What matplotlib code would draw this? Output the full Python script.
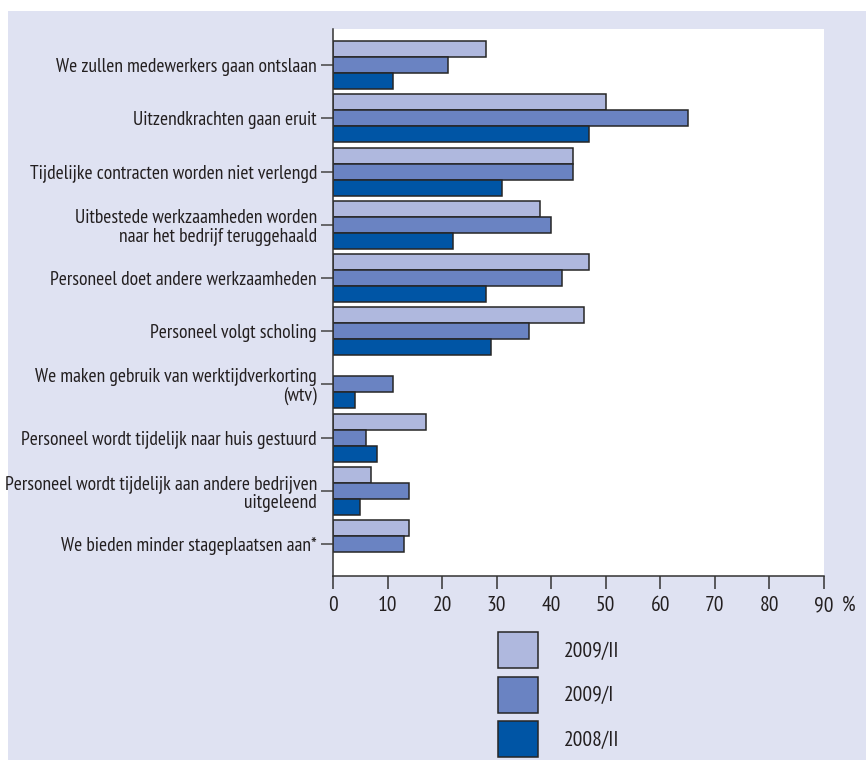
import numpy as np
import matplotlib.pyplot as plt
from matplotlib.patches import Rectangle, Patch

plt.rcParams['font.family'] = ['PT Sans Narrow', 'DejaVu Sans']

# antwoordcategorieen (van boven naar beneden)
categories = [
    "We zullen medewerkers gaan ontslaan",
    "Uitzendkrachten gaan eruit",
    "Tijdelijke contracten worden niet verlengd",
    "Uitbestede werkzaamheden worden\nnaar het bedrijf teruggehaald",
    "Personeel doet andere werkzaamheden",
    "Personeel volgt scholing",
    "We maken gebruik van werktijdverkorting\n(wtv)",
    "Personeel wordt tijdelijk naar huis gestuurd",
    "Personeel wordt tijdelijk aan andere bedrijven\nuitgeleend",
    "We bieden minder stageplaatsen aan*",
]
periods = ["2009/II", "2009/I", "2008/II"]
v_2009_II = [28, 50, 44, 38, 47, 46, np.nan, 17, 7, 14]
v_2009_I = [21, 65, 44, 40, 42, 36, 11, 6, 14, 13]
v_2008_II = [11, 47, 31, 22, 28, 29, 4, 8, 5, np.nan]
xticks = [0, 10, 20, 30, 40, 50, 60, 70, 80, 90]

colors = ["#AFB8DE", "#6A83C2", "#0055A5"]
edge = "#262626"
bg = "#DFE2F2"
txt = "#231F20"
fs_lab = 14
fs = 15.5

fig = plt.figure(figsize=(8.66, 7.6), dpi=100, facecolor="white")
fig.patches.append(Rectangle((8 / 866, 0), 1, 1 - 11 / 760, transform=fig.transFigure,
                             facecolor=bg, edgecolor="none", zorder=-1))

ax = fig.add_axes([333 / 866, 1 - 576 / 760, (824 - 333) / 866, (576 - 29) / 760])
ax.set_facecolor("white")

y = np.arange(len(categories))
h = 0.30
for k, vals in enumerate([v_2009_II, v_2009_I, v_2008_II]):
    ax.barh(y + (k - 1) * h, vals, height=h, color=colors[k], edgecolor=edge,
            linewidth=1.1, label=periods[k], zorder=2)

ax.set_xlim(0, 90)
ax.set_ylim(9.6, -0.68)
ax.set_xticks(xticks)
ax.set_yticks(y)
ax.set_yticklabels(categories, fontsize=fs_lab, color=txt, linespacing=1.1)
ax.tick_params(axis="x", labelsize=fs, length=9.4, width=1.1, color="#333333",
               labelcolor=txt, pad=5)
ax.tick_params(axis="y", length=8.6, width=1.1, color="#444444", pad=3)
for s in ["top", "right"]:
    ax.spines[s].set_visible(False)
for s in ["left", "bottom"]:
    ax.spines[s].set_color("#333333")
    ax.spines[s].set_linewidth(1.1)

ax.annotate("%", xy=(1, 0), xycoords="axes fraction", xytext=(13, -14.4),
            textcoords="offset points", fontsize=fs, color=txt,
            ha="left", va="top")

handles = [Patch(facecolor=c, edgecolor=edge, linewidth=1.1) for c in colors]
fig.legend(handles, periods, loc="upper left", bbox_to_anchor=(498 / 866, 1 - 632 / 760),
           frameon=False, fontsize=fs, handlelength=1.86, handleheight=2.2,
           handletextpad=1.2, labelspacing=0.4, borderpad=0, borderaxespad=0,
           labelcolor=txt)

fig.savefig("out.png", dpi=100, facecolor="white")
